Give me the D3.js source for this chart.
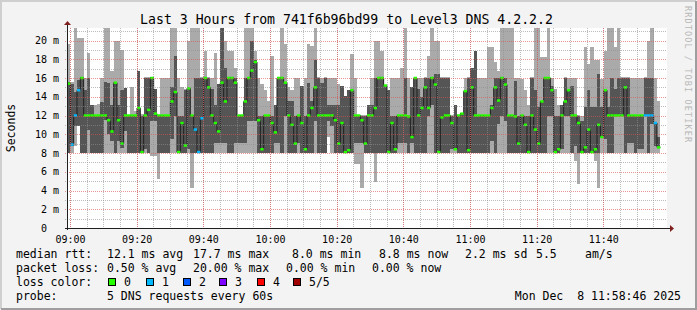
<!DOCTYPE html>
<html>
<head>
<meta charset="utf-8">
<script src="https://cdn.jsdelivr.net/npm/d3@7"></script>
<style>
body { margin: 0; background: #f3f3f3; }
svg { display: block; }
svg text { font-family: "DejaVu Sans Mono", monospace; }
</style>
</head>
<body>
<svg width="697" height="310" viewBox="0 0 697 310"></svg>
<script>
// one step per minute, 5 pings per step: lo / q1 / median / q3 / hi (ms)
const loVals = [
	8,8,8.8,10.9,8,8,8,8,8,8,8,8,8,8,8,8,8,8,8,8,8,8,8,8,8,7.7,7.7,5.2,8,8,8,8,8,8,8,8,
	8,4.3,8,8,8,8,8,8,8,8,8,8,8,8,8,8,8,8,8,8,8,8,8,8,8,8,8,8,8,8,8,8,8,8,8,8,
	8,8,8,8,8,8,9.7,8,8,8,8,8,8,8,6.8,6.8,4.3,8,8,8,4.9,8,8,8,8,8,8,8,8,8,8,8,8,8,8,8,
	8,8,8,8,8,8,8,8,8,8,8,8,8,8,8,8,8,8,8,8,8,8,8,8,8,8,8,8,8,8,8,8,8,8,8,8,
	8,8,8,8,8,8,8,8,7.2,4.7,8,8,8,8,7.2,4.3,8,8,8,8,8,8,8,8,8,8,8,8,8,8,8,8,8,8
];
const q1Vals = [
	8,8.8,10.9,10.9,8,8,10.5,8,8,8,8,11.5,10,9.3,8,9.3,8.5,10.4,8,8,8,8,8,8.4,8,11.4,11.4,8,8,8,8,9.5,12,8,8,8,
	8.4,8,8,8,8,8,8,8,9.1,9.1,9.1,9.1,8,8,9.1,9.1,9.1,9.1,11.4,11.4,11.4,8,8,8,8,8,9.1,9.1,8,12,8,8,8,9.1,8,8,
	8,8,11.4,8,8,8,11.4,10.9,8,8,8,8,8,8,9.1,9.1,9.1,8,8,8,8,8,8,8,8,8,8,9.1,9.1,9.1,8,9.1,8,8,8,8,
	12,13.1,8,8,8,8,8,8.4,8.4,8,8,8,8,8,8,8,8,8,8,9.3,8,11.1,12,11.4,8,8,8,8,8,8,8,8,8,8,8,8,
	12,12,8,8,8.4,12,12,8,8.8,8,8,8,8,8,8,8,9.7,9.5,8,8,12,12,12,8,9.1,9.1,8,8.4,8.4,12,8,11.1,8.8,8.6
];
const medVals = [
	15.4,8.9,12,14.7,16,12,12,12,12,12,12,12,11.5,10.3,15.5,11.5,9,12,12,12,12,12.8,8.1,12,12.6,16,12.2,12,12,12,12,13.5,14.5,8.1,11.2,8.8,
	14.9,12,10.5,8.1,11.7,16,15,12,11.2,10.3,15.5,13.5,16,16,15.5,12,12,13.5,16,16.8,17.7,11.5,8.4,12,12,11.2,10.2,16,16,15.5,12,11,9,12,11.2,8.4,
	12,12.8,15,12,12,12,12,12,11.5,9,11.2,8.1,8.3,14.7,12,12,11.5,9,12,12,12.8,16,16,15.2,8.1,11.2,8.4,12,12,12,11.9,9.7,16,12,12.8,15,
	12.8,16,15.3,8.1,11.8,12,12,11.2,8.4,12,12.2,14.6,8.3,15,12,12,12,12,12,12.8,15,13.6,16,15.3,12,12,11.9,9,12,11,8.1,12,10.5,9,13.5,16,
	16,14.7,8.1,8.4,12,13.5,14.7,12,12,11.2,8.1,8.6,10.5,8.1,8.4,11,9.7,14.7,12,12,12,12,12,15,12,12,12,12,12,12,12,12,11.2,8.6
];
const q3Vals = [
	15.6,15.4,14.5,15.8,16.1,14.7,16,13.1,12.1,12.1,13.4,15.6,15.5,13.1,15.6,13.1,14.7,14.9,12.1,12.1,12.1,16.8,12,16,16,16.1,14.8,12.1,12.1,12.1,12.1,15,18.4,12,12,14.7,
	14.9,12.1,16,16,16,16.1,16,14.8,13.1,15.4,22,17.1,16.1,16.1,16,12.1,12.1,16,16.1,20,17.9,12,12,12.1,12.1,12,13.1,16.1,16.1,15.5,13.6,13.6,12,12.1,15.2,12,
	15.5,13.6,17.9,16,15.5,16,13.1,13.1,13.1,13.1,15.2,14.1,14.7,14.7,12.1,12.1,12,12,13.1,13.1,16,16.1,16.1,15.3,14.7,12,12,12.1,12.1,16,12,15,16.1,14.8,14,16,
	16,16.1,16.4,16.4,16,16,16,12,13.1,12.1,12.3,14.7,16,17.1,18.9,12.1,12.1,12.1,12.1,13.1,16,16,16.1,16,12.1,12.1,15.7,12,12.1,12,12,16,14.7,12.9,13.6,16.1,
	16.1,15.2,12,12,13.1,16,14.7,15.2,12.1,12,11.4,12.9,14.7,12.9,12.9,16.4,12.9,14.7,12.9,16,14.8,16,16,16,16,12.1,12.1,12.1,12.1,16,16,16,11.2,9.7
];
const hiVals = [
	19.6,15.6,22,20.3,20.3,16,18.7,13.1,13.1,13.2,16,22,22,16.8,20,20,19,14.9,12.1,15,12.5,16.8,12.2,16.1,16.1,16.1,14.8,12.1,16,16,16,22,22,16,15,14.8,
	20,22,22,22,16.1,18.9,16.1,16,18.7,15.4,22,20,18.9,18.9,17.1,12.1,12.1,22,22,22,18.9,16,15.4,14.7,13.6,18.4,13.1,16.1,22,19.6,15,14.7,16,16,15.2,16,
	19.6,19.4,22,16.1,16,16.1,16,16,16,15.4,15.2,14.1,14.7,18.6,16,12.1,12.1,12.1,13.1,16,20,20,18.9,15.3,14.7,16,16,16,17.1,22,16,15,16.1,16,16,16.1,
	18.3,22,20,20,16.1,16.1,16.1,12.1,13.1,12.1,12.3,16,16.1,17.1,18.9,16,16,16,19.3,19.3,17.7,16.8,22,22,22,22,16,16,15.9,14.7,13.1,16.1,22,22,18.2,18.2,
	22,16,14.8,13.1,13.1,16.1,16,16,16,12.1,12,19.3,17.5,19.3,17.9,17.9,15.9,18.9,22,22,19.3,22,16.1,16.1,16.1,16,16,16,16,16.1,20,22,16,13.6
];
// lost pings per step (only 0 or 1 in this window)
const lossVals = [
	0,1,1,1,0,0,0,0,0,0,0,0,0,0,0,0,0,0,0,0,0,0,0,0,0,0,0,0,0,0,0,0,0,0,0,0,
	0,0,1,1,1,0,0,0,0,0,0,0,0,0,0,0,0,0,0,0,0,0,0,0,0,0,0,0,0,0,0,0,0,0,0,0,
	0,0,0,0,0,0,0,0,0,0,0,0,0,0,0,0,0,0,0,0,0,0,0,0,0,0,0,0,0,0,0,0,0,0,0,0,
	0,0,0,0,0,0,0,0,0,0,0,0,0,0,0,0,0,0,0,0,0,0,0,0,0,0,0,0,0,0,0,0,0,0,0,0,
	0,0,0,0,0,0,0,0,0,0,0,0,0,0,0,0,0,0,0,0,0,0,0,0,0,0,0,0,0,1,1,1,1,0
];

const yTicks = [0, 2, 4, 6, 8, 10, 12, 14, 16, 18, 20];
const lossLabels = ["0", "1", "2", "3", "4", "5/5"];
const lossColors = ["#26ff00", "#00b8ff", "#0059ff", "#7e00ff", "#ff0000", "#a10000"];
const statRows = [
	[["median rtt:", 16], ["12.1 ms avg", 107], ["17.7 ms max", 193], ["8.0 ms min", 292], ["8.8 ms now", 379], ["2.2 ms sd", 465], ["5.5", 536], ["am/s", 585]],
	[["packet loss:", 16], ["0.50 % avg", 107], ["20.00 % max", 193], ["0.00 % min", 286], ["0.00 % now", 372]],
	[["loss color:", 16]],
	[["probe:", 16], ["5 DNS requests every 60s", 107]]
];

const svg = d3.select("svg");
const width = +svg.attr("width");
const height = +svg.attr("height");
const margin = { top: 28, left: 67 };
const innerWidth = 600;
const innerHeight = 200;

const start = new Date(2025, 11, 8, 8, 59, 6);
const end = d3.timeMinute.offset(start, 180);
const data = medVals.map((m, i) => ({
	t: d3.timeMinute.offset(start, i),
	lo: loVals[i], q1: q1Vals[i], med: m, q3: q3Vals[i], hi: hiVals[i], loss: lossVals[i]
}));
// extra point so the last step gets its width
const last = data[data.length - 1];
const stepData = data.concat([{ ...last, t: d3.timeMinute.offset(last.t, 1) }]);

const xScale = d3.scaleTime().domain([start, end]).range([0, innerWidth]);
const yScale = d3.scaleLinear().domain([0, 200 / 9.375]).range([innerHeight, 0]);

svg.append("defs").append("clipPath").attr("id", "plot")
	.append("rect").attr("width", innerWidth).attr("height", innerHeight);

const root = svg.append("g");

// background and 3d frame
root.append("rect").attr("width", width).attr("height", height).attr("fill", "#f3f3f3");
root.append("path").attr("d", `M1,${height - 1}V1H${width - 1}`).attr("fill", "none")
	.attr("stroke", "#cfcfcf").attr("stroke-width", 2);
root.append("path").attr("d", `M1,${height - 1}H${width - 1}V1`).attr("fill", "none")
	.attr("stroke", "#9e9e9e").attr("stroke-width", 2);

root.append("text").attr("x", 346.5).attr("y", 24).attr("text-anchor", "middle")
	.attr("font-size", 13.2).text("Last 3 Hours from 741f6b96bd99 to Level3 DNS 4.2.2.2");

root.append("text").attr("transform", "translate(15,128) rotate(-90)").attr("text-anchor", "middle")
	.attr("font-size", 11.5).text("Seconds");

root.append("text").attr("transform", "translate(685,6) rotate(90)")
	.attr("font-family", "DejaVu Sans").attr("font-size", 8.5).attr("fill", "#b8b8b8")
	.attr("textLength", 136).text("RRDTOOL / TOBI OETIKER");

const group = root.append("g").attr("transform", `translate(${margin.left}, ${margin.top})`);

group.append("rect").attr("width", innerWidth).attr("height", innerHeight).attr("fill", "#fff");

const plot = group.append("g").attr("clip-path", "url(#plot)");

// smoke
const band = (a, b) => d3.area()
	.x(d => xScale(d.t)).y0(d => yScale(d[a])).y1(d => yScale(d[b]))
	.curve(d3.curveStepAfter);
plot.append("path").attr("d", band("lo", "hi")(stepData)).attr("fill", "#aaaaaa")
	.attr("shape-rendering", "crispEdges");
plot.append("path").attr("d", band("q1", "q3")(stepData)).attr("fill", "#555555")
	.attr("shape-rendering", "crispEdges");

// median line
plot.append("path")
	.attr("d", d3.line().x(d => xScale(d.t)).y(d => yScale(d.med)).curve(d3.curveStepAfter)(stepData))
	.attr("fill", "none").attr("stroke", "#202020").attr("stroke-width", 1);

plot.selectAll("rect.med").data(data)
	.enter().append("rect")
		.attr("class", "med")
		.attr("x", d => xScale(d.t))
		.attr("y", d => yScale(d.med) - 1.25)
		.attr("width", d => xScale(d3.timeMinute.offset(d.t, 1)) - xScale(d.t))
		.attr("height", 2.5)
		.attr("fill", d => lossColors[d.loss]);

// grid on top, dotted like rrdtool
const minorY = d3.range(0, 22, 1).filter(v => v % 2);
const minorX = d3.timeMinute.every(5).range(start, end);
const majorX = d3.timeMinute.every(20).range(start, end);
const grid = group.append("g").attr("stroke-dasharray", "1,1").attr("shape-rendering", "crispEdges");
grid.selectAll("line.minory").data(minorY).enter().append("line")
	.attr("x1", -2).attr("x2", innerWidth)
	.attr("y1", d => Math.round(yScale(d)) + 0.5).attr("y2", d => Math.round(yScale(d)) + 0.5)
	.attr("stroke", "rgba(143,143,143,0.6)");
grid.selectAll("line.minorx").data(minorX).enter().append("line")
	.attr("y1", 0).attr("y2", innerHeight + 2)
	.attr("x1", d => Math.round(xScale(d)) + 0.5).attr("x2", d => Math.round(xScale(d)) + 0.5)
	.attr("stroke", "rgba(143,143,143,0.6)");
grid.selectAll("line.majory").data(yTicks).enter().append("line")
	.attr("x1", -2).attr("x2", innerWidth)
	.attr("y1", d => Math.round(yScale(d)) + 0.5).attr("y2", d => Math.round(yScale(d)) + 0.5)
	.attr("stroke", "rgba(222,79,79,0.6)");
grid.selectAll("line.majorx").data(majorX).enter().append("line")
	.attr("y1", 0).attr("y2", innerHeight + 2)
	.attr("x1", d => Math.round(xScale(d)) + 0.5).attr("x2", d => Math.round(xScale(d)) + 0.5)
	.attr("stroke", "rgba(222,79,79,0.6)");

// axes
const yAxis = d3.axisLeft(yScale).tickValues(yTicks).tickSize(0).tickPadding(8)
	.tickFormat(d => d === 0 ? "0" : `${d} m`);
const xAxis = d3.axisBottom(xScale).ticks(d3.timeMinute.every(20)).tickSize(0).tickPadding(8)
	.tickFormat(d3.timeFormat("%H:%M"));
group.append("g").call(yAxis)
	.call(g => g.select(".domain").remove())
	.selectAll("text").attr("font-size", 10).attr("fill", "#000")
	.attr("font-family", "DejaVu Sans Mono")
	.attr("dx", d => d === 0 ? -12 : 0);
group.append("g").attr("transform", `translate(0, ${innerHeight})`).call(xAxis)
	.call(g => g.select(".domain").remove())
	.selectAll("text").attr("font-size", 10).attr("fill", "#000")
	.attr("font-family", "DejaVu Sans Mono");

group.append("line").attr("x1", 0.5).attr("x2", 0.5).attr("y1", innerHeight + 2).attr("y2", -4)
	.attr("stroke", "#1f1f1f");
group.append("line").attr("x1", -2).attr("x2", innerWidth + 4).attr("y1", innerHeight + 0.5).attr("y2", innerHeight + 0.5)
	.attr("stroke", "#1f1f1f");
group.append("path").attr("d", "M-3,-3L0.5,-7L4,-3Z").attr("fill", "#801f1f");
group.append("path").attr("d", `M${innerWidth + 3},${innerHeight - 3}L${innerWidth + 7},${innerHeight + 0.5}L${innerWidth + 3},${innerHeight + 4}Z`)
	.attr("fill", "#801f1f");

// legend
const legend = root.append("g").attr("font-size", 11.5);
statRows.forEach((row, r) => {
	row.forEach(([txt, x]) => {
		legend.append("text").attr("x", x).attr("y", 258 + r * 14).text(txt);
	});
});
const lossX = [108, 146, 183, 219, 257, 293];
lossLabels.forEach((lbl, i) => {
	legend.append("rect").attr("x", lossX[i] + 0.5).attr("y", 278.5).attr("width", 7).attr("height", 7)
		.attr("fill", lossColors[i]).attr("stroke", "#000");
	legend.append("text").attr("x", lossX[i] + 16).attr("y", 286).text(lbl);
});
legend.append("text").attr("x", 681).attr("y", 300).attr("text-anchor", "end")
	.attr("xml:space", "preserve").style("white-space", "pre")
	.text("Mon Dec  8 11:58:46 2025");
</script>
</body>
</html>
